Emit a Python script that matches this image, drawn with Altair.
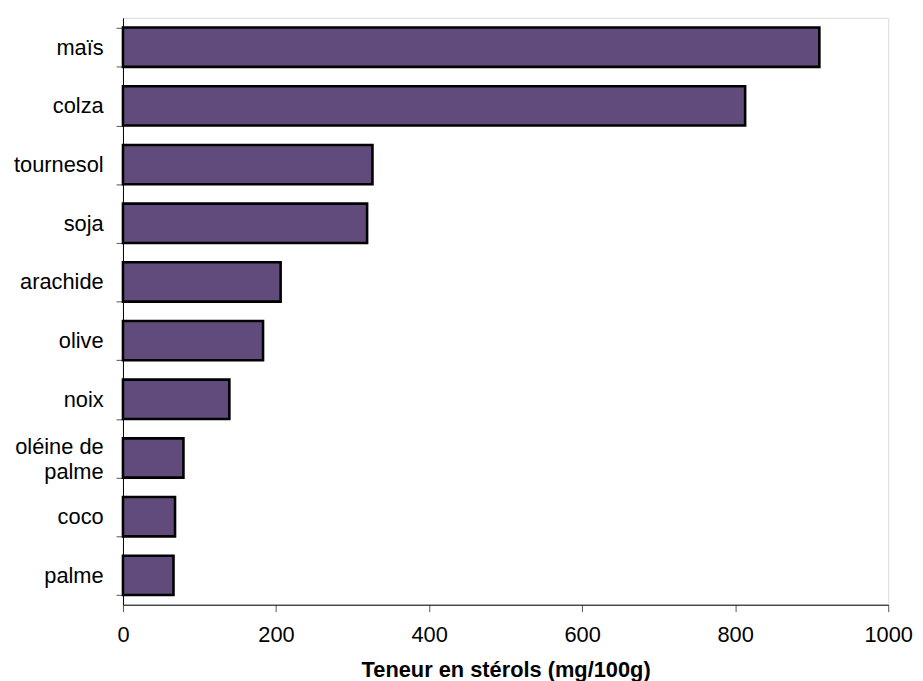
import altair as alt
import pandas as pd

categories = ["maïs", "colza", "tournesol", "soja", "arachide", "olive",
              "noix", "oléine de palme", "coco", "palme"]
values = [910, 813, 326, 319, 206, 183, 139, 79, 68, 66]
x_ticks = [0, 200, 400, 600, 800, 1000]

df = pd.DataFrame({"huile": categories, "sterols": values})

FONT = "Liberation Sans"

bars = alt.Chart(df).mark_bar(
    fill="#604B7C", stroke="#000000", strokeWidth=2.6
).encode(
    x=alt.X("sterols:Q",
            scale=alt.Scale(domain=[0, 1000], nice=False, zero=True),
            axis=alt.Axis(values=x_ticks, format="d",
                          title="Teneur en stérols (mg/100g)",
                          grid=False, domainColor="#000000", tickColor="#555555",
                          tickSize=7, labelFontSize=22, labelPadding=13,
                          labelFont=FONT, titleFont=FONT, titleFontSize=22,
                          titleFontWeight="bold", titleColor="#000000",
                          labelColor="#000000", titlePadding=14,
                          labelFlush=False)),
    y=alt.Y("huile:N", sort=categories,
            scale=alt.Scale(paddingInner=0.33, paddingOuter=0.165),
            axis=alt.Axis(title=None, grid=False, domainColor="#000000",
                          tickColor="#555555", tickSize=7, tickBand="extent",
                          labelFontSize=22, labelFont=FONT, labelColor="#000000",
                          labelPadding=13, labelLineHeight=26,
                          labelOffset={"condition": {"test": "datum.value == 'oléine de palme'", "value": -12}, "value": 0},
                          labelExpr="datum.label == 'oléine de palme' ? ['oléine de', 'palme\u00a0\u00a0\u2009'] : datum.label")),
).properties(
    width=772, height=592,
    autosize=alt.AutoSizeParams(type="none"),
    padding={"left": 116, "top": 7, "right": 27, "bottom": 74},
).configure_view(
    stroke="#A0A0A0", strokeWidth=1
).configure(background="white")

chart = bars
chart.save("out.html", embed_options={"renderer": "svg", "actions": False})
